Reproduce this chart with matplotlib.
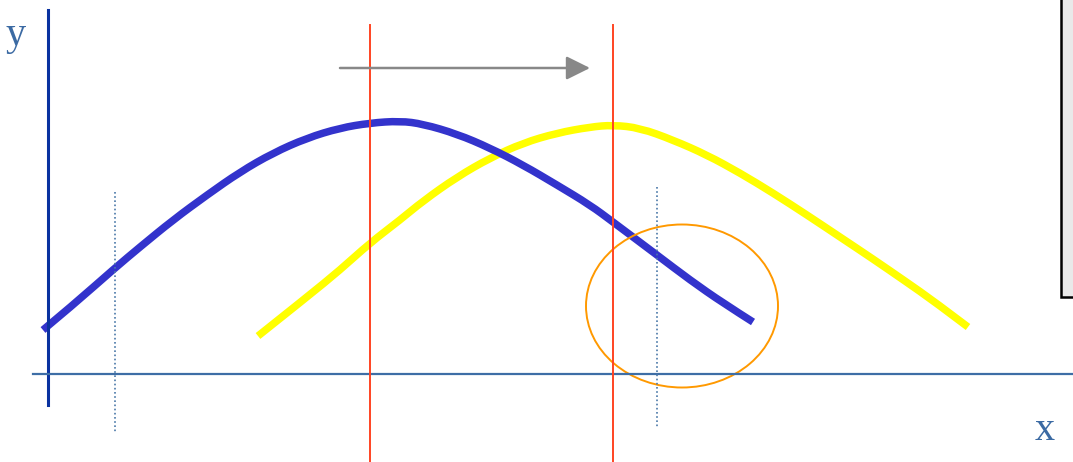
import matplotlib
matplotlib.use("Agg")
import matplotlib.pyplot as plt
from matplotlib.patches import Ellipse, Rectangle, PathPatch
from matplotlib.path import Path

# curve points (pixel coords, y down)
blue_x = [43, 73, 115, 140, 173, 207, 240, 273, 307, 340, 370, 400,
          423, 457, 490, 523, 557, 590, 613, 657, 690, 723, 753]
blue_y = [330, 305, 268, 247, 220, 195, 172, 153, 138, 128, 123, 121,
          124, 134, 148, 165, 185, 205, 222, 255, 280, 303, 322]

yellow_x = [258, 307, 340, 370, 400, 423, 457, 490, 523, 557, 590, 613,
            640, 673, 707, 740, 773, 807, 840, 873, 905, 935, 968]
yellow_y = [336, 297, 270, 243, 220, 201, 177, 158, 143, 133, 127, 125,
            128, 140, 155, 173, 193, 215, 237, 259, 281, 302, 327]

red_x = [370, 613]
dotted_x = [115, 657]
dotted_top = [192, 187]
dotted_bottom = [432, 427]

TEXT_C = "#3b6aa3"


def smooth_path(xs, ys):
    # quadratic segments through midpoints, read points act as control points
    pts = list(zip(xs, ys))
    verts = [pts[0]]
    codes = [Path.MOVETO]
    for i in range(1, len(pts) - 1):
        mid = ((pts[i][0] + pts[i + 1][0]) / 2, (pts[i][1] + pts[i + 1][1]) / 2)
        if i == len(pts) - 2:
            mid = pts[-1]
        verts += [pts[i], mid]
        codes += [Path.CURVE3, Path.CURVE3]
    return Path(verts, codes)


fig = plt.figure(figsize=(10.73, 4.62), dpi=100)
ax = fig.add_axes([0, 0, 1, 1])
ax.set_xlim(0, 1073)
ax.set_ylim(462, 0)
ax.axis("off")

# axes of the diagram
ax.plot([48, 48], [10, 405], color="#0a32a0", lw=2.2)
ax.plot([33, 1073], [374, 374], color="#3e6ea6", lw=1.6)

# red verticals
for xv in red_x:
    ax.plot([xv, xv], [25, 462], color="#ff4422", lw=1.4)

# dotted guides
for xv, t, b in zip(dotted_x, dotted_top, dotted_bottom):
    ax.plot([xv, xv], [t, b], color="#4a78a8", lw=1.2, ls=(0, (1, 1.5)))

# curves
ax.add_patch(PathPatch(smooth_path(yellow_x, yellow_y), fill=False, edgecolor="#ffff00",
                       lw=5.4, capstyle="butt"))
ax.add_patch(PathPatch(smooth_path(blue_x, blue_y), fill=False, edgecolor="#3333cc",
                       lw=5.4, capstyle="butt"))

# shift arrow
ax.annotate("", xy=(590, 68), xytext=(340, 68),
            arrowprops=dict(arrowstyle="-|>,head_length=1.45,head_width=0.72",
                            color="#888888", lw=1.8, shrinkA=0, shrinkB=0))

# orange ellipse
ax.add_patch(Ellipse((682, 306), 192, 163, fill=False, edgecolor="#ff9900", lw=1.4))

# box at right edge
ax.add_patch(Rectangle((1061, -5), 30, 302, facecolor="#e9e9e9", edgecolor="black", lw=1.8))

ax.text(5, 35, "y", fontsize=29, family="Liberation Serif", color=TEXT_C, va="center")
ax.text(1035, 430, "x", fontsize=29, family="Liberation Serif", color=TEXT_C, va="center")

fig.savefig("out.png", dpi=100)
